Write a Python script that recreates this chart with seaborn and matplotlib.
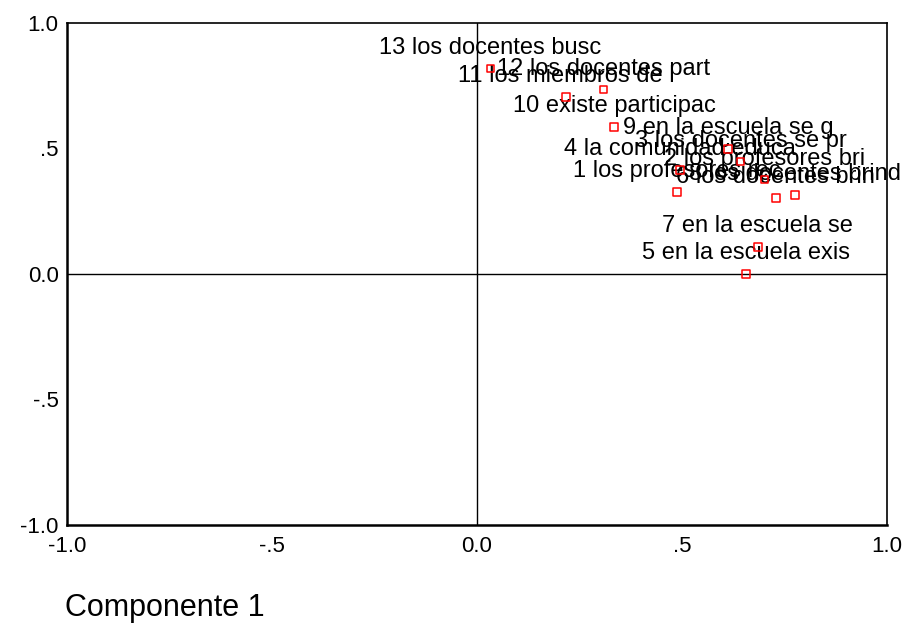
import matplotlib
matplotlib.use("Agg")
import matplotlib.pyplot as plt
import pandas as pd
import seaborn as sns

# component loadings
labels = [
    "1 los profesores rec", "2 los profesores bri", "3 los docentes se pr",
    "4 la comunidad educa", "5 en la escuela exis", "6 los docentes brin",
    "7 en la escuela se", "8 los docentes brind", "9 en la escuela se g",
    "10 existe participac", "11 los miembros de l", "12 los docentes part",
    "13 los docentes busc",
]
comp1 = [0.488, 0.702, 0.643, 0.495, 0.656, 0.729, 0.685, 0.776, 0.612, 0.334, 0.217, 0.309, 0.033]
comp2 = [0.327, 0.376, 0.447, 0.414, 0.000, 0.303, 0.108, 0.315, 0.498, 0.586, 0.705, 0.734, 0.818]
ticks = [-1.0, -0.5, 0.0, 0.5, 1.0]
tick_labels = ["-1.0", "-.5", "0.0", ".5", "1.0"]

df = pd.DataFrame({"label": labels, "c1": comp1, "c2": comp2})

sns.set_style("white")
plt.rcParams["font.family"] = ["Liberation Sans", "DejaVu Sans"]
plt.rcParams["text.color"] = "black"

fig = plt.figure(figsize=(9.04, 6.23), dpi=100)
ax = fig.add_axes([0.0741, 0.1573, 0.9071, 0.8058])

ax.axhline(0, color="black", lw=1.0, zorder=1)
ax.axvline(0, color="black", lw=1.0, zorder=1)

sns.scatterplot(data=df, x="c1", y="c2", marker="s", s=28, ax=ax, zorder=3)
coll = ax.collections[0]
coll.set_facecolor("none")
coll.set_edgecolor("red")
coll.set_linewidth(1.1)

for _, r in df.iterrows():
    ax.annotate(r["label"], (r["c1"], r["c2"]), xytext=(0, 15), textcoords="offset points",
                ha="center", va="center", fontsize=17, color="black", zorder=2,
                annotation_clip=False)

ax.set_xlim(-1, 1)
ax.set_ylim(-1, 1)
ax.set_xticks(ticks)
ax.set_xticklabels(tick_labels)
ax.set_yticks(ticks)
ax.set_yticklabels(tick_labels)
ax.set_xlabel("")
ax.set_ylabel("")
ax.tick_params(axis="both", direction="out", length=3, width=3, colors="black", labelsize=16)
ax.tick_params(axis="x", pad=5)
ax.tick_params(axis="y", pad=3)

for side in ["left", "bottom"]:
    ax.spines[side].set_linewidth(1.8)
    ax.spines[side].set_color("black")
for side in ["top", "right"]:
    ax.spines[side].set_linewidth(1.2)
    ax.spines[side].set_color("black")

fig.text(65 / 904, 1 - 608 / 623, "Componente 1", ha="left", va="center", fontsize=22, color="black")

fig.savefig("out.png", dpi=100, facecolor="white")
